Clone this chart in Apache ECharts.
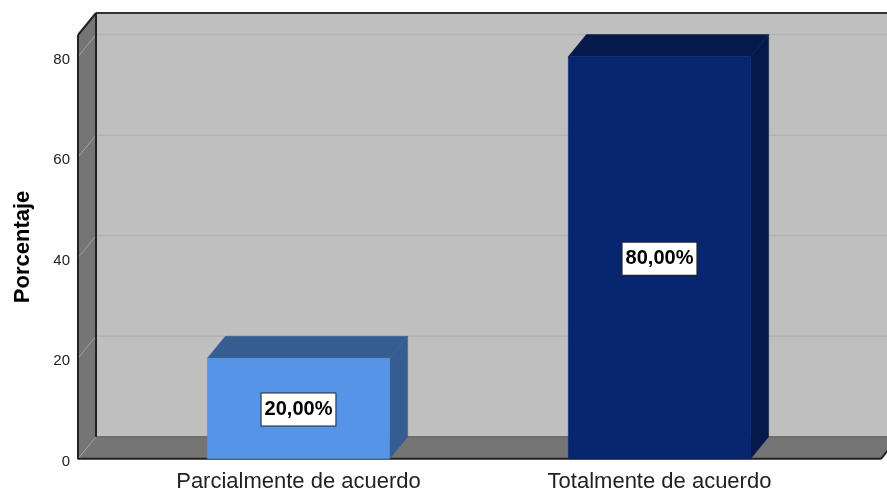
<!DOCTYPE html>
<html><head><meta charset="utf-8">
<style>html,body{margin:0;padding:0;background:#fff}#c{width:887px;height:490px}</style>
<script src="https://cdn.jsdelivr.net/npm/echarts@6/dist/echarts.min.js"></script>
</head><body><div id="c"></div>
<script>
const categories = ['Parcialmente de acuerdo', 'Totalmente de acuerdo'];
const values = [20, 80];
const valueLabels = ['20,00%', '80,00%'];
const yTicks = [0, 20, 40, 60, 80];
const frontColors = ['#5594e6', '#08266f'];
const topColors = ['#365d92', '#051a4b'];
const sideColors = ['#365d92', '#051a4b'];

const DX = 18, DY = -22;        // 3D depth
const LEFT = 78, RIGHT = 881;   // front edge of the floor
const YMAX = 84.3;
const FONT = '"Liberation Sans", Arial, sans-serif';

const chart = echarts.init(document.getElementById('c'));

function poly(points, fill) {
  return { type: 'polygon', shape: { points }, style: { fill, stroke: fill, lineWidth: 0.5 } };
}
function line(x1, y1, x2, y2, stroke, w) {
  return { type: 'line', shape: { x1, y1, x2, y2 }, style: { stroke, lineWidth: w, fill: null } };
}

function renderWalls(params, api) {
  const y0 = api.coord([0, 0])[1];
  const yT = api.coord([0, YMAX])[1];
  const kids = [];
  kids.push(poly([[LEFT + DX, yT + DY], [RIGHT + DX, yT + DY], [RIGHT + DX, y0 + DY], [LEFT + DX, y0 + DY]], '#bfbfbf'));
  kids.push(poly([[LEFT, yT], [LEFT + DX, yT + DY], [LEFT + DX, y0 + DY], [LEFT, y0]], '#757575'));
  kids.push(poly([[LEFT, y0], [LEFT + DX, y0 + DY], [RIGHT + DX, y0 + DY], [RIGHT, y0]], '#757575'));
  yTicks.forEach(t => {
    const y = api.coord([0, t])[1];
    kids.push(line(LEFT, y, LEFT + DX, y + DY, '#a2a2a2', 1));
    if (t > 0) kids.push(line(LEFT + DX, y + DY, RIGHT + DX, y + DY, '#b2b2b2', 1.5));
  });
  kids.push(line(LEFT + DX, y0 + DY, RIGHT + DX, y0 + DY, '#5e5e5e', 1));
  kids.push(line(LEFT, yT, LEFT, y0 + 0.5, '#222', 2));
  kids.push(line(LEFT + DX, yT + DY, LEFT + DX, y0 + DY, '#222', 2));
  kids.push(line(LEFT, yT, LEFT + DX, yT + DY, '#222', 2));
  kids.push(line(LEFT + DX, yT + DY, RIGHT + DX, yT + DY, '#333', 2));
  kids.push(line(LEFT, y0, RIGHT, y0, '#222', 2));
  kids.push(line(RIGHT, y0, RIGHT + DX, y0 + DY, '#222', 2));
  return { type: 'group', children: kids };
}

function renderBars(params, api) {
  const i = api.value(0);
  const v = api.value(1);
  const base = api.coord([i, 0]);
  const top = api.coord([i, v]);
  const half = api.size([1, 0])[0] * 0.2525;
  const l = base[0] - half, r = base[0] + half, yB = base[1], yT = top[1];
  return {
    type: 'group',
    children: [
      poly([[l, yT], [l + DX, yT + DY], [r + DX, yT + DY], [r, yT]], topColors[i]),
      poly([[r, yT], [r + DX, yT + DY], [r + DX, yB + DY], [r, yB]], sideColors[i]),
      poly([[l, yT], [r, yT], [r, yB], [l, yB]], frontColors[i]),
      {
        type: 'text',
        style: {
          x: base[0], y: (yB + yT) / 2 + 1,
          text: valueLabels[i],
          align: 'center', verticalAlign: 'middle',
          font: 'bold 20px ' + FONT,
          fill: '#000',
          backgroundColor: '#fff',
          borderColor: '#222',
          borderWidth: 1,
          padding: [6, 3, 6, 3]
        }
      }
    ]
  };
}

chart.setOption({
  animation: false,
  backgroundColor: '#fff',
  grid: { left: 118, right: 47, top: 35, bottom: 31.2, outerBoundsMode: 'none' },
  xAxis: {
    type: 'category',
    data: categories,
    axisLine: { show: false },
    axisTick: { show: false },
    axisLabel: { color: '#222', fontFamily: FONT, fontSize: 22, margin: 12 }
  },
  yAxis: {
    type: 'value',
    min: 0, max: YMAX,
    offset: 48,
    name: 'Porcentaje',
    nameLocation: 'middle',
    nameGap: 36,
    nameTextStyle: { color: '#000', fontFamily: FONT, fontSize: 22, fontWeight: 'bold' },
    axisLine: { show: false },
    axisTick: { show: false },
    splitLine: { show: false },
    axisLabel: {
      margin: 0, customValues: yTicks,
      formatter: '{a|{value}}',
      rich: { a: { color: '#222', fontFamily: FONT, fontSize: 15, padding: [6, 0, 0, 0] } }
    }
  },
  series: [
    { type: 'custom', silent: true, z: 1, clip: false, renderItem: renderWalls, data: [[0, 0]] },
    {
      type: 'custom', silent: true, z: 2, clip: false, renderItem: renderBars,
      encode: { x: 0, y: 1 },
      data: values.map((v, i) => [i, v])
    }
  ]
});
</script></body></html>
